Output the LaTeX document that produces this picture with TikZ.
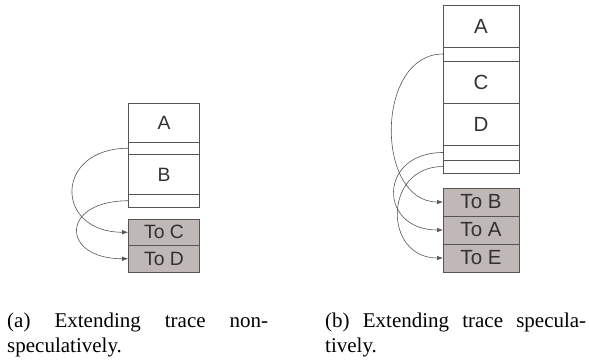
\documentclass[tikz,border=0pt]{standalone}
\usepackage{fontspec}
\usetikzlibrary{positioning,arrows.meta}
\newfontfamily\boxfont{Liberation Sans}
\newfontfamily\capfont{Liberation Serif}
\definecolor{boxline}{RGB}{85,85,85}
\definecolor{boxtext}{RGB}{50,50,50}
\definecolor{tgtfill}{RGB}{192,184,182}
\hbadness=10000

\begin{document}
\begin{tikzpicture}[x=1pt, y=-1pt, >={Latex[length=6pt,width=4.5pt]},
  blk/.style={draw=boxline, line width=0.8pt, inner sep=0pt, outer sep=0pt, text=boxtext},
  cell/.style={blk, minimum height=#1},
  tgt/.style={blk, fill=tgtfill, minimum height=#1},
  jump/.style={draw=boxline, line width=0.6pt, ->},
  caption/.style={text width=261pt, align=justify, inner sep=0pt,
    font=\capfont\fontsize{21}{25}\selectfont}]
  \useasboundingbox (0,0) rectangle (589,360);

  % (a) non-speculative
  \begin{scope}[blk/.append style={minimum width=71.7pt, font=\boxfont\fontsize{19.3}{20}\selectfont}]
    \node[cell=39pt, anchor=north] (la) at (164,103) {A};
    \node[cell=12.5pt, below=0pt of la] (ls1) {};
    \node[cell=40pt, below=0pt of ls1] (lb) {B};
    \node[cell=12.5pt, below=0pt of lb] (ls2) {};
    \node[tgt=26.5pt, below=12pt of ls2] (ltc) {To C};
    \node[tgt=26.5pt, below=0pt of ltc] (ltd) {To D};
  \end{scope}
  \path[jump] (ls1.west) .. controls +(-74,0) and +(-74,0) .. (ltc.west);
  \path[jump] (ls2.west) .. controls +(-68,0) and +(-68,0) .. (ltd.west);

  % (b) speculative
  \begin{scope}[blk/.append style={minimum width=76pt, font=\boxfont\fontsize{20.5}{21}\selectfont}]
    \node[cell=42pt, anchor=north] (ra) at (481,5) {A};
    \node[cell=14pt, below=0pt of ra] (rs1) {};
    \node[cell=42pt, below=0pt of rs1] (rc) {C};
    \node[cell=42pt, below=0pt of rc] (rd) {D};
    \node[cell=15pt, below=0pt of rd] (rs2) {};
    \node[cell=13pt, below=0pt of rs2] (rs3) {};
    \node[tgt=28pt, below=15pt of rs3] (rtb) {To B};
    \node[tgt=28pt, below=0pt of rtb] (rta) {To A};
    \node[tgt=28pt, below=0pt of rta] (rte) {To E};
  \end{scope}
  \path[jump] (rs1.west) .. controls +(-68,0) and +(-68,0) .. (rtb.west);
  \path[jump] (rs2.west) .. controls +(-65,0) and +(-65,0) .. (rta.west);
  \path[jump] (rs3.west) .. controls +(-60,0) and +(-60,0) .. (rte.west);

  % captions
  \node[caption, anchor=north west] (capa) at (7,313) {(a) Extending trace non-\linebreak speculatively.};
  \node[caption, anchor=north west] (capb) at (325,313) {(b) Extending trace specula-\linebreak tively.};
\end{tikzpicture}
\end{document}
